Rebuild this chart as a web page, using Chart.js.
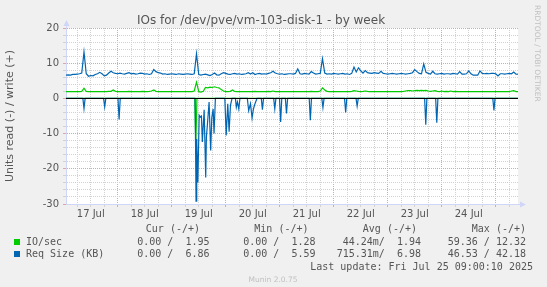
<!DOCTYPE html>
<html><head><meta charset="utf-8">
<script src="https://cdn.jsdelivr.net/npm/chart.js@4"></script>
<style>
html,body{margin:0;padding:0;background:#f0f0f0;}
#wrap{position:relative;width:547px;height:287px;overflow:hidden;background:#f0f0f0;}
#c{position:absolute;left:0;top:0;}
.t{position:absolute;white-space:pre;}
.mono{font-family:"DejaVu Sans Mono",monospace;font-size:10px;line-height:12px;color:#555;}
.sq{position:absolute;width:6px;height:6px;}
</style></head><body>
<div id="wrap">
<canvas id="c" width="547" height="287"></canvas>
<div class="t" style="left:0;width:522px;text-align:center;top:13px;font:12px 'DejaVu Sans';line-height:14px;color:#555;">IOs for /dev/pve/vm-103-disk-1 - by week</div>
<div class="t" style="left:533px;top:5px;writing-mode:vertical-rl;font:7.5px 'DejaVu Sans';line-height:9px;color:#c0c0c0;">RRDTOOL / TOBI OETIKER</div>
<div class="t" style="left:0;width:546px;text-align:center;top:275px;font:7.5px 'DejaVu Sans';line-height:10px;color:#c0c0c0;">Munin 2.0.75</div>
<div id="legend"></div>
</div>
<script>
// ---- data (x axis in hours since 17 Jul 00:00) ----
const dayLabels = ['17 Jul','18 Jul','19 Jul','20 Jul','21 Jul','22 Jul','23 Jul','24 Jul'];
const firstHour = 1;   // write series sampled hourly from this hour
const reqSizeWrite = [
 6.6,6.7,6.6,6.8,6.8,6.9,7.0,7.2,13.2,7.0,
 6.3,6.5,6.4,6.8,7.0,7.4,7.0,6.4,6.6,7.2,
 7.7,7.3,7.1,7.0,7.2,7.0,6.9,7.1,7.3,7.0,
 7.1,6.9,7.0,7.2,7.1,6.9,7.0,6.8,7.0,8.2,
 7.6,7.3,7.2,6.9,7.0,6.8,6.9,7.0,6.9,6.8,
 7.0,6.9,6.8,6.9,7.0,6.9,6.8,7.0,12.7,6.8,
 6.6,6.8,6.9,6.7,6.5,6.8,7.2,6.7,6.6,7.0,
 7.3,7.1,6.9,6.8,7.0,7.1,6.9,7.0,6.8,6.9,
 7.0,7.3,6.9,7.3,6.8,7.0,7.1,6.9,7.0,6.9,
 7.1,7.3,7.7,7.2,7.0,6.9,7.0,6.8,6.9,7.0,
 7.0,6.9,7.1,8.4,7.0,6.9,7.1,7.0,6.9,7.6,
 7.2,6.9,7.0,7.1,11.3,7.2,6.9,7.0,6.9,7.1,
 7.0,6.9,7.0,7.1,6.9,7.0,6.8,7.1,8.9,7.5,
 8.7,7.8,7.2,7.9,7.3,7.2,7.1,7.3,7.2,7.1,
 7.7,7.1,7.0,6.9,7.0,7.1,7.0,6.9,7.0,7.1,
 7.0,6.9,7.0,7.1,7.3,8.2,7.6,7.1,7.0,9.8,
 7.4,7.1,6.9,7.7,7.0,6.9,7.0,7.1,6.9,7.0,
 7.0,6.9,7.1,7.0,6.9,7.6,6.9,6.9,7.0,7.8,
 7.0,6.6,6.6,6.6,7.8,7.1,7.0,7.1,7.0,7.1,
 7.1,7.0,6.4,7.0,7.0,6.9,7.0,7.1,7.0,7.5,6.86,6.9
];
const ioWrite = [
 1.9,1.9,1.95,1.9,1.9,1.95,1.9,2.0,2.9,2.0,
 1.9,1.9,1.95,1.9,1.9,1.95,1.9,1.9,1.95,2.0,
 2.0,2.4,2.0,1.9,1.95,1.9,1.95,1.9,2.0,1.95,
 1.9,1.95,1.9,1.95,2.0,1.9,1.95,2.0,2.1,2.4,
 2.0,1.95,1.9,1.95,1.9,1.95,1.9,1.9,1.95,1.9,
 1.95,1.9,1.95,1.9,1.95,1.9,1.95,2.1,4.6,1.9,
 1.8,2.0,3.1,3.0,3.2,3.1,3.3,3.1,3.0,2.5,
 2.1,1.95,1.9,2.0,2.4,1.95,1.9,1.95,1.9,1.95,
 1.9,1.95,1.9,1.95,2.0,1.95,1.9,1.95,1.9,1.95,
 2.0,1.95,2.1,1.95,1.9,1.95,1.9,1.95,1.9,1.95,
 1.9,1.95,1.9,1.95,1.9,1.95,1.9,1.95,1.9,2.0,
 1.95,1.9,1.95,2.1,3.0,2.4,2.0,1.95,1.9,1.95,
 1.9,1.95,1.9,1.95,1.9,1.95,1.9,2.0,2.2,2.1,
 2.0,1.95,2.0,2.1,2.0,1.95,1.9,1.95,1.9,1.95,
 1.9,1.95,1.9,1.95,1.9,1.95,1.9,1.95,1.9,1.95,
 2.0,2.1,2.2,2.2,2.1,2.2,2.3,2.2,2.3,2.2,
 2.3,2.1,2.0,2.1,2.2,2.0,1.95,2.1,1.95,2.0,
 1.95,2.1,1.95,2.0,1.95,1.9,1.95,1.9,1.95,1.9,
 1.95,1.9,1.95,1.9,1.95,1.9,1.95,1.9,1.95,1.9,
 1.95,1.9,1.95,1.9,1.95,1.9,1.95,1.9,2.1,2.2,1.95,1.95
];
// read side (drawn negative)
const ioReadHours = [1.0, 58.2, 58.7, 59.2, 202];
const ioReadVals  = [0, 0, -13, 0, 0];
const reqReadHours = [1.0,
 8.5,9.0,9.5, 17.7,18.2,18.7, 24.1,24.6,25.1,
 58.4,58.8,59.1,59.6,60.2,60.7,61.2,61.6,62.4,63.1,63.4,63.9,64.6,65.3,65.8,66.4,66.8,67.4,
 71.6,72.2,72.9,73.5,74.1,74.8, 76.3,76.7,77.2,77.8,78.3,
 81.6,82.2,83.0,83.7,84.3,85.0,85.9, 87.8,88.3,88.8, 93.3,93.8,94.3, 95.9,96.4,96.9, 98.5,99.0,99.5,
 109.1,109.6,110.1, 114.7,115.2,115.7, 124.8,125.3,125.8, 129.9,130.4,130.9,
 160.4,160.9,161.4, 165.3,165.8,166.3, 190.7,191.2,191.7, 202];
const reqReadVals = [0,
 0,-2.9,0, 0,-2.4,0, 0,-6.0,0,
 0,-29.2,-11.5,-23.9,-4.8,-5.3,-5.0,-12.4,-3.2,-22.5,-11,-7,-1,-14.8,-5.5,-3,-10,0,
 0,-10.5,-1.5,-9.5,-2,0, 0,-2.5,-1,-3.0,0,
 0,-3.5,-1.5,-5.6,-3,-1.5,0, 0,-3.2,0, 0,-3.0,0, 0,-6.7,0, 0,-4.3,0,
 0,-6.2,0, 0,-2.6,0, 0,-4.0,0, 0,-2.2,0,
 0,-7.5,0, 0,-6.9,0, 0,-3.4,0, 0];
// legend table
const seriesNames = ['IO/sec','Req Size (KB)'];
const seriesColors = ['#00cc00','#0066b3'];
const colHeaders = ['Cur (-/+)','Min (-/+)','Avg (-/+)','Max (-/+)'];
const curVals = ['0.00 /  1.95','0.00 /  6.86'];
const minVals = ['0.00 /  1.28','0.00 /  5.59'];
const avgVals = ['44.24m/  1.94','715.31m/  6.98'];
const maxVals = ['59.36 / 12.32','46.53 / 42.18'];
const lastUpdate = 'Last update: Fri Jul 25 09:00:10 2025';

// ---- legend (HTML text) ----
(function(){
  const L = document.getElementById('legend');
  const add = (html, style) => { const d=document.createElement('div'); d.className='t mono'; d.textContent=html; d.setAttribute('style',style); L.appendChild(d); };
  const hdrRight = [200, 308.5, 417, 526];
  const valRight = [209.5, 315.5, 421, 526];
  colHeaders.forEach((h,i)=>add(h, `right:${547-hdrRight[i]}px;top:222.5px;`));
  const cols=[curVals,minVals,avgVals,maxVals];
  seriesNames.forEach((n,r)=>{
    const top = 236 + r*12;
    const sq=document.createElement('div'); sq.className='sq';
    sq.style.left='14px'; sq.style.top=(top+3)+'px'; sq.style.background=seriesColors[r]; L.appendChild(sq);
    add(n, `left:26px;top:${top}px;`);
    cols.forEach((c,i)=>add(c[r], `right:${547-valRight[i]}px;top:${top}px;`));
  });
  add(lastUpdate, `right:${547-533}px;top:260.5px;`);
})();

// ---- chart ----
const toXY = (xs, ys) => ys.map((y,i)=>({x:xs[i], y}));
const writeHours = reqSizeWrite.map((_,i)=>firstHour+i);
const xGrid = []; for (let h=6; h<=198; h+=6) xGrid.push(h);
const RED='#e2a3a3', GRAY='#d2d2d2', AXIS='#CFD6F8';

const bgPlugin = {id:'bg', beforeDraw(ch){const a=ch.chartArea,c=ch.ctx;c.save();c.fillStyle='#fff';c.fillRect(a.left,a.top,a.right-a.left,a.bottom-a.top);c.restore();}};
const zeroPlugin = {id:'zero', afterDatasetsDraw(ch){const a=ch.chartArea,c=ch.ctx,y=Math.round(ch.scales.y.getPixelForValue(0))+0.5;
  c.save();c.strokeStyle='#000';c.lineWidth=1;c.beginPath();c.moveTo(a.left,y);c.lineTo(a.right,y);c.stroke();c.restore();}};
const arrowPlugin = {id:'arrows', afterDraw(ch){const a=ch.chartArea,c=ch.ctx;c.save();c.strokeStyle=AXIS;c.fillStyle=AXIS;c.lineWidth=1;
  const lx=Math.round(a.left)+0.5, by=Math.round(a.bottom)+0.5;
  c.beginPath();c.moveTo(lx,a.top);c.lineTo(lx,a.top-3);c.stroke();
  c.beginPath();c.moveTo(lx,a.top-8);c.lineTo(lx-3,a.top-2);c.lineTo(lx+3,a.top-2);c.closePath();c.fill();
  c.beginPath();c.moveTo(a.right,by);c.lineTo(a.right+2,by);c.stroke();
  c.beginPath();c.moveTo(a.right+8,by);c.lineTo(a.right+2,by-3);c.lineTo(a.right+2,by+3);c.closePath();c.fill();
  c.restore();}};

const FONT = {family:"'DejaVu Sans'", size:10};
new Chart(document.getElementById('c'), {
  type:'line',
  data:{datasets:[
    {label:'Req Size (KB) write', data:toXY(writeHours, reqSizeWrite), borderColor:'#0066b3', borderWidth:1.2},
    {label:'Req Size (KB) read', data:toXY(reqReadHours, reqReadVals.map(v=>v)), borderColor:'#0066b3', borderWidth:1.2},
    {label:'IO/sec write', data:toXY(writeHours, ioWrite), borderColor:'#00cc00', borderWidth:1.2},
    {label:'IO/sec read', data:toXY(ioReadHours, ioReadVals), borderColor:'#00cc00', borderWidth:1.2}
  ]},
  options:{
    responsive:false, animation:false, events:[],
    layout:{padding:{left:0, right:29, top:28, bottom:0}},
    elements:{point:{radius:0}, line:{tension:0, fill:false}},
    plugins:{legend:{display:false}, tooltip:{enabled:false}, title:{display:false}},
    scales:{
      x:{type:'linear', min:1.0, max:201.9,
        afterFit(s){s.height=83;},
        afterBuildTicks(s){s.ticks = xGrid.map(v=>({value:v}));},
        ticks:{autoSkip:false, maxRotation:0, includeBounds:false, padding:1, color:'#555', font:FONT,
          callback:(v)=> (v%24===12) ? dayLabels[(v-12)/24] : ''},
        grid:{color:(ctx)=> (ctx.tick && ctx.tick.value%24===0) ? RED : GRAY, lineWidth:1, tickLength:3},
        border:{display:true, color:AXIS, dash:[1,1]}
      },
      y:{type:'linear', min:-30, max:20,
        afterFit(s){s.width=66;},
        ticks:{stepSize:2, autoSkip:false, padding:4, color:'#555', font:FONT,
          callback:(v)=> (v%10===0) ? String(v) : ''},
        grid:{color:(ctx)=> (ctx.tick && ctx.tick.value%10===0) ? RED : GRAY, lineWidth:1, tickLength:3},
        border:{display:true, color:AXIS, dash:[1,1]},
        title:{display:true, text:'Units read (-) / write (+)', color:'#555', font:{family:"'DejaVu Sans'", size:11}, padding:{top:4,bottom:0}}
      }
    }
  },
  plugins:[bgPlugin, zeroPlugin, arrowPlugin]
});
</script>
</body></html>
